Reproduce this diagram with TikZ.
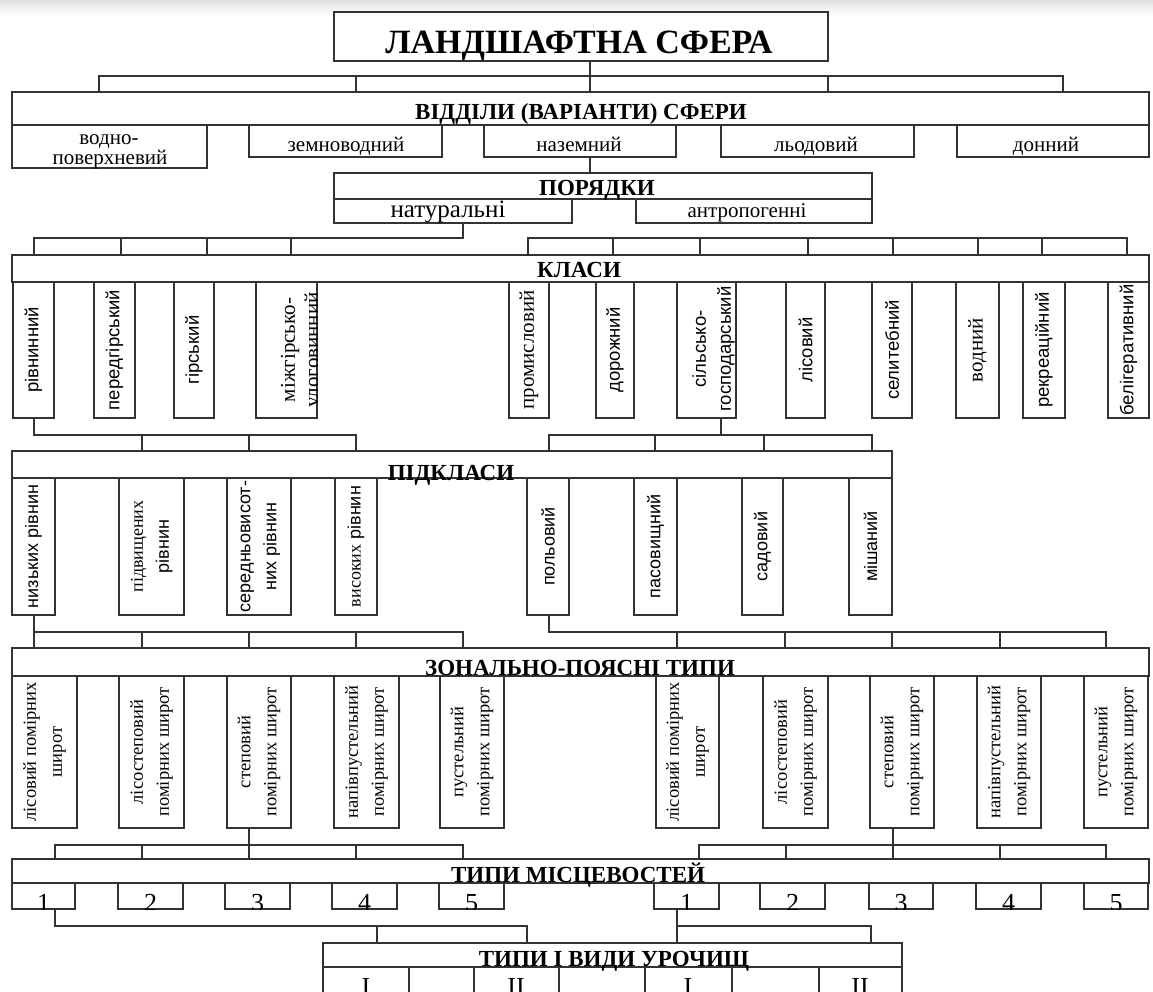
\documentclass[tikz,border=0pt]{standalone}
\usepackage{fontspec}
\usepackage{graphicx}
\setmainfont{Liberation Serif}
\newfontfamily\sansf{Liberation Sans}
\tikzset{
  ln/.style={draw=black!80, line width=1.6pt},
  bx/.style={draw=black!80, line width=1.6pt, inner sep=0pt, outer sep=0pt, rectangle},
  hd/.style={font=\bfseries\fontsize{23}{26}\selectfont, inner sep=0pt, anchor=base},
  sm/.style={font=\fontsize{21}{24}\selectfont, inner sep=0pt, anchor=base},
  csans/.style={font=\sansf\fontsize{18.5}{22}\selectfont},
  cser/.style={font=\fontsize{21}{24}\selectfont},
  ssans/.style={font=\sansf\fontsize{18}{22}\selectfont},
  zt/.style={font=\fontsize{18.5}{22}\selectfont},
  num/.style={font=\fontsize{26}{30}\selectfont, inner sep=0pt, anchor=base},
}
\newcommand\bx[7][]{\node[bx,minimum width={#5-#3},minimum height={#6-#4},anchor=north west,#1] (#2) at (#3,#4) {#7};}
\newcommand\rottxt[1]{\rotatebox{90}{#1}}
\newcommand\rottwo[3][2pt]{\rotatebox{90}{\begin{tabular}{@{}c@{}}#2\\[#1]#3\end{tabular}}}
% number box: name, x1, x2, digit
\newcommand\numbx[4]{%
  \bx{#1}{#2}{883}{#3}{909}{}
  \begin{scope}
    \clip (#1.north west) rectangle (#1.south east);
    \node[num] (#1t) at ([yshift=-2pt]#1.south) {#4};
  \end{scope}}
\begin{document}
\begin{tikzpicture}[x=1pt,y=-1pt]
\useasboundingbox (0,0) rectangle (1153,991);
\fill[white] (0,0) rectangle (1153,991);
\shade[top color=black!12, bottom color=white] (0,0) rectangle (1153,16);

% ---- title
\bx[line width=2.8pt]{T}{334}{12}{828}{61}{}
\node[font=\bfseries\fontsize{34}{40}\selectfont, inner sep=0pt, anchor=base] (Tt) at (579,53) {ЛАНДШАФТНА СФЕРА};

% ---- divisions
\bx{V}{12}{92}{1149}{125}{}
\node[hd] (Vt) at (581,119) {ВІДДІЛИ (ВАРІАНТИ) СФЕРИ};
\bx{v1}{12}{125}{207}{168}{}
\node[sm] (v1a) at (109,144) {водно-};
\node[sm] (v1b) at (110,164) {поверхневий};
\bx{v2}{249}{125}{442}{157}{}
\node[sm] (v2t) at (346,151) {земноводний};
\bx{v3}{484}{125}{676}{157}{}
\node[sm] (v3t) at (579,151) {наземний};
\bx{v4}{721}{125}{914}{157}{}
\node[sm] (v4t) at (816,151) {льодовий};
\bx{v5}{957}{125}{1149}{157}{}
\node[sm] (v5t) at (1046,151) {донний};

% ---- orders
\bx{P}{334}{173}{872}{199}{}
\node[hd] (Pt) at (597,195) {ПОРЯДКИ};
\bx{p1}{334}{199}{572}{223}{}
\node[sm, font=\fontsize{25}{28}\selectfont] (p1t) at (448,217) {натуральні};
\bx{p2}{636}{199}{872}{223}{}
\node[sm] (p2t) at (747,217) {антропогенні};

% ---- classes
\bx{K}{12}{255}{1149}{282}{}
\node[hd] (Kt) at (579,277) {КЛАСИ};
\bx[csans]{k1}{13}{282}{54}{418}{\rottxt{рівнинний}}
\bx[csans]{k2}{94}{282}{135}{418}{\rottxt{передгірський}}
\bx[csans]{k3}{174}{282}{214}{418}{\rottxt{гірський}}
\bx{k4}{256}{282}{317}{418}{}
\begin{scope}
\clip (k4.north west) rectangle (k4.south east);
\node[cser, inner sep=0pt] (k4t) at (302,350) {\rottwo[0pt]{міжгірсько-}{улоговинний}};
\end{scope}
\bx[cser]{k5}{509}{282}{549}{418}{\rottxt{промисловий}}
\bx[csans]{k6}{596}{282}{634}{418}{\rottxt{дорожний}}
\bx{k7}{677}{282}{736}{418}{}
\node[csans, inner sep=0pt] (k7t) at (714,349) {\rottwo[3pt]{сільсько-}{господарський}};
\bx[csans]{k8}{786}{282}{825}{418}{\rottxt{лісовий}}
\bx[csans]{k9}{872}{282}{912}{418}{\rottxt{селитебний}}
\bx[cser]{k10}{956}{282}{999}{418}{\rottxt{водний}}
\bx[csans]{k11}{1023}{282}{1065}{418}{\rottxt{рекреаційний}}
\bx[csans]{k12}{1108}{282}{1149}{418}{\rottxt{белігеративний}}

% ---- subclasses
\bx{PK}{12}{451}{892}{478}{}
\node[hd] (PKt) at (451,480) {ПІДКЛАСИ};
\bx[ssans]{s1}{12}{478}{55}{615}{\rottxt{низьких рівнин}}
\bx[ssans]{s2}{119}{478}{184}{615}{\rottwo[4pt]{\rmfamily підвищених}{рівнин}}
\bx[ssans]{s3}{227}{478}{291}{615}{\rottwo[4pt]{середньовисот-}{них рівнин}}
\bx[ssans]{s4}{335}{478}{377}{615}{\rottxt{{\rmfamily високих} рівнин}}
\bx[ssans]{s5}{527}{478}{569}{615}{\rottxt{польовий}}
\bx[ssans]{s6}{634}{478}{677}{615}{\rottxt{пасовищний}}
\bx[ssans]{s7}{742}{478}{783}{615}{\rottxt{садовий}}
\bx[ssans]{s8}{849}{478}{892}{615}{\rottxt{мішаний}}

% ---- zonal types
\bx{Z}{12}{648}{1149}{676}{}
\node[hd] (Zt) at (580,675) {ЗОНАЛЬНО-ПОЯСНІ ТИПИ};
\bx[zt]{z1}{12}{676}{77}{828}{\rottwo[4pt]{лісовий помірних}{широт}}
\bx[zt]{z2}{119}{676}{184}{828}{\rottwo[4pt]{лісостеповий}{помірних широт}}
\bx[zt]{z3}{227}{676}{291}{828}{\rottwo[4pt]{степовий}{помірних широт}}
\bx[zt]{z4}{334}{676}{399}{828}{\rottwo[4pt]{напівпустельний}{помірних широт}}
\bx[zt]{z5}{440}{676}{504}{828}{\rottwo[4pt]{пустельний}{помірних широт}}
\bx[zt]{z6}{656}{676}{719}{828}{\rottwo[4pt]{лісовий помірних}{широт}}
\bx[zt]{z7}{763}{676}{828}{828}{\rottwo[4pt]{лісостеповий}{помірних широт}}
\bx[zt]{z8}{870}{676}{934}{828}{\rottwo[4pt]{степовий}{помірних широт}}
\bx[zt]{z9}{977}{676}{1041}{828}{\rottwo[4pt]{напівпустельний}{помірних широт}}
\bx[zt]{z10}{1084}{676}{1148}{828}{\rottwo[4pt]{пустельний}{помірних широт}}

% ---- locality types
\bx{M}{12}{859}{1149}{883}{}
\node[hd] (Mt) at (578,882) {ТИПИ МІСЦЕВОСТЕЙ};
\numbx{n1}{12}{75}{1}
\numbx{n2}{118}{183}{2}
\numbx{n3}{225}{290}{3}
\numbx{n4}{332}{397}{4}
\numbx{n5}{439}{504}{5}
\numbx{n6}{654}{719}{1}
\numbx{n7}{760}{825}{2}
\numbx{n8}{869}{933}{3}
\numbx{n9}{976}{1041}{4}
\numbx{n10}{1084}{1148}{5}

% ---- tracts
\bx{U}{323}{943}{902}{967}{}
\node[hd] (Ut) at (614,966) {ТИПИ І ВИДИ УРОЧИЩ};
\bx{u1}{323}{967}{409}{1010}{} \node[num] (u1t) at (366,995) {I};
\bx{u2}{474}{967}{559}{1010}{} \node[num] (u2t) at (516,995) {II};
\bx{u3}{645}{967}{732}{1010}{} \node[num] (u3t) at (688,995) {I};
\bx{u4}{819}{967}{902}{1010}{} \node[num] (u4t) at (860,995) {II};

% ================= connectors
% title -> divisions
\coordinate (a0) at (590,76);
\coordinate (a1) at (99,76);
\coordinate (a2) at (356,76);
\coordinate (a4) at (828,76);
\coordinate (a5) at (1063,76);
\draw[ln] (T.south -| a0) -- (V.north -| a0);
\draw[ln] (a1 |- V.north) -- (a1) -- (a5) -- (a5 |- V.north);
\draw[ln] (a2) -- (a2 |- V.north);
\draw[ln] (a4) -- (a4 |- V.north);
% terrestrial -> orders
\draw[ln] (v3.south -| a0) -- (P.north -| a0);
% natural -> classes
\coordinate (b0) at (463,238);
\coordinate (b1) at (34,238);
\coordinate (b2) at (121,238);
\coordinate (b3) at (207,238);
\coordinate (b4) at (291,238);
\draw[ln] (p1.south -| b0) -- (b0) -- (b1) -- (b1 |- K.north);
\foreach \c in {b2,b3,b4} \draw[ln] (\c) -- (\c |- K.north);
% anthropogenic classes bus
\coordinate (c1) at (528,238);
\coordinate (c2) at (613,238);
\coordinate (c3) at (700,238);
\coordinate (c4) at (808,238);
\coordinate (c5) at (893,238);
\coordinate (c6) at (978,238);
\coordinate (c7) at (1042,238);
\coordinate (c8) at (1127,238);
\draw[ln] (c1 |- K.north) -- (c1) -- (c8) -- (c8 |- K.north);
\foreach \c in {c2,c3,c4,c5,c6,c7} \draw[ln] (\c) -- (\c |- K.north);
% plain -> subclasses
\coordinate (d0) at (34,435);
\coordinate (d1) at (142,435);
\coordinate (d2) at (249,435);
\coordinate (d3) at (356,435);
\draw[ln] (k1.south -| d0) -- (d0) -- (d3) -- (d3 |- PK.north);
\foreach \c in {d1,d2} \draw[ln] (\c) -- (\c |- PK.north);
% agricultural -> subclasses
\coordinate (e0) at (721,435);
\coordinate (e1) at (549,435);
\coordinate (e2) at (655,435);
\coordinate (e3) at (764,435);
\coordinate (e4) at (872,435);
\draw[ln] (k7.south -| e0) -- (e0);
\draw[ln] (e1 |- PK.north) -- (e1) -- (e4) -- (e4 |- PK.north);
\foreach \c in {e2,e3} \draw[ln] (\c) -- (\c |- PK.north);
% low plains -> zonal
\coordinate (f0) at (34,632);
\coordinate (f1) at (142,632);
\coordinate (f2) at (249,632);
\coordinate (f3) at (356,632);
\coordinate (f4) at (463,632);
\draw[ln] (s1.south -| f0) -- (Z.north -| f0);
\draw[ln] (f0) -- (f4) -- (f4 |- Z.north);
\foreach \c in {f1,f2,f3} \draw[ln] (\c) -- (\c |- Z.north);
% field -> zonal
\coordinate (g0) at (549,632);
\coordinate (g1) at (677,632);
\coordinate (g2) at (785,632);
\coordinate (g3) at (892,632);
\coordinate (g4) at (1000,632);
\coordinate (g5) at (1106,632);
\draw[ln] (s5.south -| g0) -- (g0) -- (g5) -- (g5 |- Z.north);
\foreach \c in {g1,g2,g3,g4} \draw[ln] (\c) -- (\c |- Z.north);
% steppe (left) -> localities
\coordinate (h0) at (249,845);
\coordinate (h1) at (55,845);
\coordinate (h2) at (142,845);
\coordinate (h3) at (356,845);
\coordinate (h4) at (463,845);
\draw[ln] (z3.south -| h0) -- (M.north -| h0);
\draw[ln] (h1 |- M.north) -- (h1) -- (h4) -- (h4 |- M.north);
\foreach \c in {h2,h3} \draw[ln] (\c) -- (\c |- M.north);
% steppe (right) -> localities
\coordinate (i0) at (893,845);
\coordinate (i1) at (699,845);
\coordinate (i2) at (786,845);
\coordinate (i3) at (1000,845);
\coordinate (i4) at (1106,845);
\draw[ln] (z8.south -| i0) -- (M.north -| i0);
\draw[ln] (i1 |- M.north) -- (i1) -- (i4) -- (i4 |- M.north);
\foreach \c in {i2,i3} \draw[ln] (\c) -- (\c |- M.north);
% 1 (left) -> tracts
\coordinate (j0) at (55,926);
\coordinate (j1) at (377,926);
\coordinate (j2) at (527,926);
\draw[ln] (n1.south -| j0) -- (j0) -- (j2) -- (j2 |- U.north);
\draw[ln] (j1) -- (j1 |- U.north);
% 1 (right) -> tracts
\coordinate (l0) at (677,926);
\coordinate (l1) at (871,926);
\draw[ln] (n6.south -| l0) -- (U.north -| l0);
\draw[ln] (l0) -- (l1) -- (l1 |- U.north);
\end{tikzpicture}
\end{document}
